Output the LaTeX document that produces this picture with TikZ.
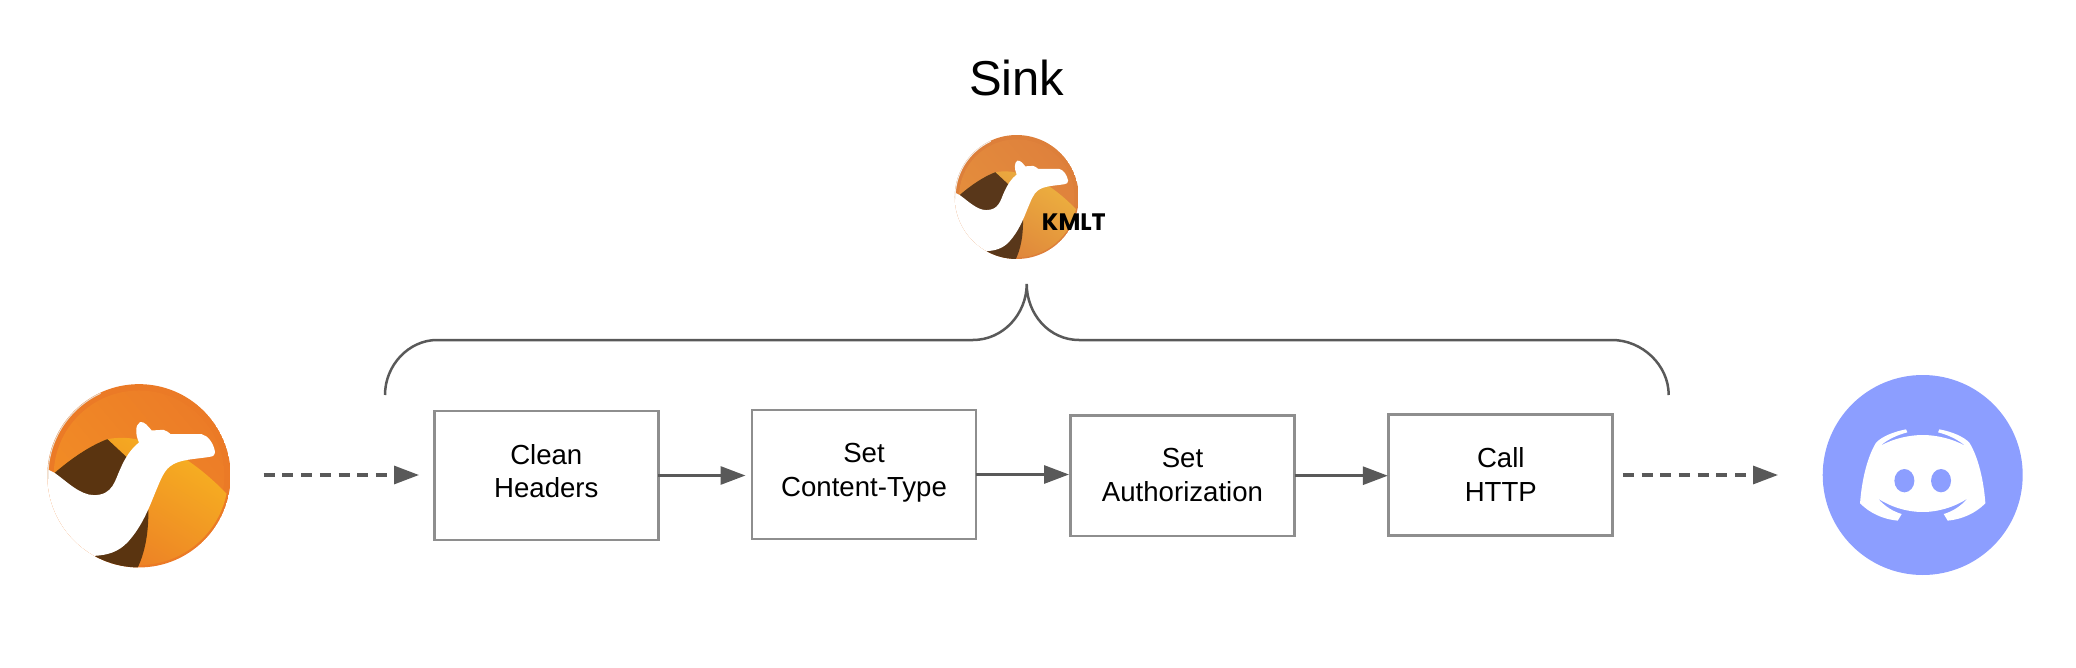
\documentclass[tikz,border=0pt]{standalone}
\usepackage{fontspec}
\setmainfont{Liberation Sans}
\newfontfamily\kmltfont{Poppins}
\usetikzlibrary{arrows.meta}
\definecolor{boxline}{HTML}{8E8E8E}
\definecolor{flowline}{HTML}{595959}
\definecolor{discordblue}{HTML}{8C9EFF}
\definecolor{camelring}{HTML}{EB7A26}
\definecolor{camellow}{HTML}{F28E25}
\definecolor{camelhigh}{HTML}{EC7C27}
\definecolor{hillhigh}{HTML}{F7B221}
\definecolor{hillmid}{HTML}{F18A25}
\definecolor{hilllow}{HTML}{EB7A26}
\definecolor{camelbrown}{HTML}{5A3410}
\definecolor{camelrim}{HTML}{E9DCCF}
\tikzset{
  stepbox/.style={draw=boxline,line width=2.8pt,fill=white,inner sep=0pt,outer sep=0pt,
    minimum width=224pt,font=\fontsize{27.6}{33}\selectfont},
  flow/.style={draw=flowline,line width=3pt,-{Triangle[length=25pt,width=18pt]}},
  dashflow/.style={flow,line width=3.2pt,dash pattern=on 11pt off 7.7pt},
  bracket/.style={draw=flowline,line width=2.5pt},
  logodisc/.style={circle,inner sep=0pt,outer sep=0pt,draw=none}
}
% two text lines set round the centre of a box; #3 = raise of the first baseline
\newcommand\twolines[3]{%
  \makebox[0pt][c]{\raisebox{#3}[0pt][0pt]{#1}}%
  \makebox[0pt][c]{\raisebox{\dimexpr#3-33.7pt\relax}[0pt][0pt]{#2}}}
\newcommand\camelart{%
  \begin{scope}
    \clip (417,408) circle [x radius=275,y radius=275];
    \fill[camelring] (417,408) circle [x radius=276,y radius=276];
    \shade[bottom color=camellow,top color=camelhigh,shading angle=-50]
      (417,408) circle [x radius=256,y radius=256];
    % sunlit hill
    \begin{scope}
      \clip (417,408) circle [x radius=268,y radius=268];
      \shade[bottom color=hilllow,middle color=hillmid,top color=hillhigh,shading angle=-32]
        (160,400) .. controls (215,355) and (270,318) .. (322,298)
        .. controls (350,293) and (385,292) .. (415,300)
        .. controls (470,315) and (520,330) .. (560,360)
        .. controls (605,390) and (650,430) .. (686,468)
        -- (700,690) -- (160,690) -- cycle;
    \end{scope}
    % dark body
    \fill[camelbrown] (163,400) .. controls (215,355) and (270,318) .. (322,298)
      -- (380,352) -- (400,480) -- (230,480) -- cycle;
    \fill[camelbrown] (285,648) -- (445,510) .. controls (446,580) and (435,640) .. (410,690) -- (330,700) -- cycle;
    % white camel
    \fill[white] (130,382) -- (165,400) .. controls (200,425) and (240,466) .. (282,466)
      .. controls (340,466) and (345,420) .. (362,385)
      .. controls (375,355) and (392,328) .. (417,308)
      .. controls (406,285) and (405,255) .. (420,247)
      .. controls (432,243) and (445,260) .. (455,272)
      -- (490,270) .. controls (500,272) and (505,278) .. (512,283)
      -- (605,283) .. controls (625,288) and (640,310) .. (645,335)
      .. controls (645,345) and (640,350) .. (630,351)
      .. controls (590,358) and (535,358) .. (510,380)
      .. controls (490,395) and (480,425) .. (465,460)
      .. controls (445,510) and (425,560) .. (385,605)
      .. controls (355,638) and (320,646) .. (285,648)
      -- (200,720) -- (100,600) -- cycle;
    \draw[camelrim,line width=1pt] (417,408) ++(178:273) arc [start angle=178,end angle=245,radius=273];
  \end{scope}}
\begin{document}
\begin{tikzpicture}[x=1pt,y=-1pt]
  \useasboundingbox (0,0) rectangle (2076,668);
  % title and logos
  \node[anchor=base,font=\fontsize{49}{50}\selectfont] (sink) at (1016.7,95.7) {Sink};
  \node[logodisc,minimum size=124pt] (kamelet) at (1016.7,197) {};
  \begin{scope}[shift={(1016.7pt,-197pt)},x=0.2254pt,y=-0.2254pt,shift={(-417,-408)}]
    \definecolor{camelring}{HTML}{DD7F3A}
    \definecolor{camellow}{HTML}{E58F3C}
    \definecolor{camelhigh}{HTML}{DF813C}
    \definecolor{hillhigh}{HTML}{EDB23F}
    \definecolor{hillmid}{HTML}{E48D38}
    \definecolor{hilllow}{HTML}{DD7F3A}
    \definecolor{camelbrown}{HTML}{59371A}
    \definecolor{camelrim}{HTML}{F2EDE8}
    \camelart
  \end{scope}
  \node[anchor=base west,inner sep=0pt,font=\kmltfont\bfseries\fontsize{23.8}{25}\selectfont] (kmlt) at (1041.7,231) {KMLT};
  \node[logodisc,minimum size=183.4pt] (camel) at (139,475) {};
  \begin{scope}[shift={(139pt,-475.8pt)},x=0.3333pt,y=-0.3333pt,shift={(-417,-408)}]
    \camelart
  \end{scope}
  \node[logodisc,fill=discordblue,minimum size=200pt] (discord) at (1922.7,475) {};
  \begin{scope}[shift={(1922.7pt,-475pt)},x=0.3333pt,y=-0.3333pt,shift={(-518,-405)}]
    \fill[white] (330,490) .. controls (335,420) and (352,350) .. (378,308)
      .. controls (395,290) and (430,275) .. (468,268) -- (472,277)
      .. controls (440,285) and (410,300) .. (390,318)
      .. controls (430,295) and (480,285) .. (518,285)
      .. controls (556,285) and (606,295) .. (646,318)
      .. controls (626,300) and (596,285) .. (564,277) -- (568,268)
      .. controls (606,275) and (641,290) .. (658,308)
      .. controls (684,350) and (701,420) .. (706,490)
      .. controls (676,520) and (636,538) .. (593,542) -- (581,522)
      .. controls (606,515) and (631,500) .. (653,475)
      .. controls (616,500) and (566,516) .. (518,516)
      .. controls (470,516) and (420,500) .. (383,475)
      .. controls (405,500) and (430,515) .. (455,522) -- (443,542)
      .. controls (400,538) and (360,520) .. (330,490) -- cycle;
    \fill[discordblue] (463,422) circle [x radius=30,y radius=35];
    \fill[discordblue] (573,422) circle [x radius=30,y radius=35];
  \end{scope}
  % steps
  \node[stepbox,minimum height=129pt] (clean) at (546.3,475.5) {\twolines{Clean}{Headers}{11.5pt}};
  \node[stepbox,minimum height=129pt] (ctype) at (864,474.5) {\twolines{Set}{Content-Type}{11.8pt}};
  \node[stepbox,minimum height=120.7pt] (auth) at (1182.5,475.7) {\twolines{Set}{Authorization}{8pt}};
  \node[stepbox,minimum height=120.6pt] (call) at (1500.8,475) {\twolines{Call}{HTTP}{7.3pt}};
  % connectors
  \draw[dashflow,shorten <=33pt,shorten >=15.3pt] (camel.east) -- (camel.east -| clean.west);
  \draw[flow,shorten >=6.5pt] (clean.east) -- (clean.east -| ctype.west);
  \draw[flow,shorten >=1.5pt] (ctype.east) -- (ctype.east -| auth.west);
  \draw[flow,shorten >=1pt] (auth.east) -- (auth.east -| call.west);
  \draw[dashflow,shorten <=10pt,shorten >=44.7pt] (call.east) -- (discord.west);
  % bracket
  \coordinate (bl) at (385,395);
  \coordinate (bm) at (1026.7,284);
  \coordinate (br) at (1668.7,395);
  \coordinate (bla) at (437,340);
  \coordinate (blb) at (973,340);
  \coordinate (bra) at (1079,340);
  \coordinate (brb) at (1612,340);
  \draw[bracket] (bl) .. controls +(0,-30) and +(-28,0) .. (bla) -- (blb)
    .. controls +(30,0) and +(0,30) .. (bm)
    .. controls +(0,30) and +(-30,0) .. (bra) -- (brb)
    .. controls +(30,0) and +(0,-30) .. (br);
\end{tikzpicture}
\end{document}
